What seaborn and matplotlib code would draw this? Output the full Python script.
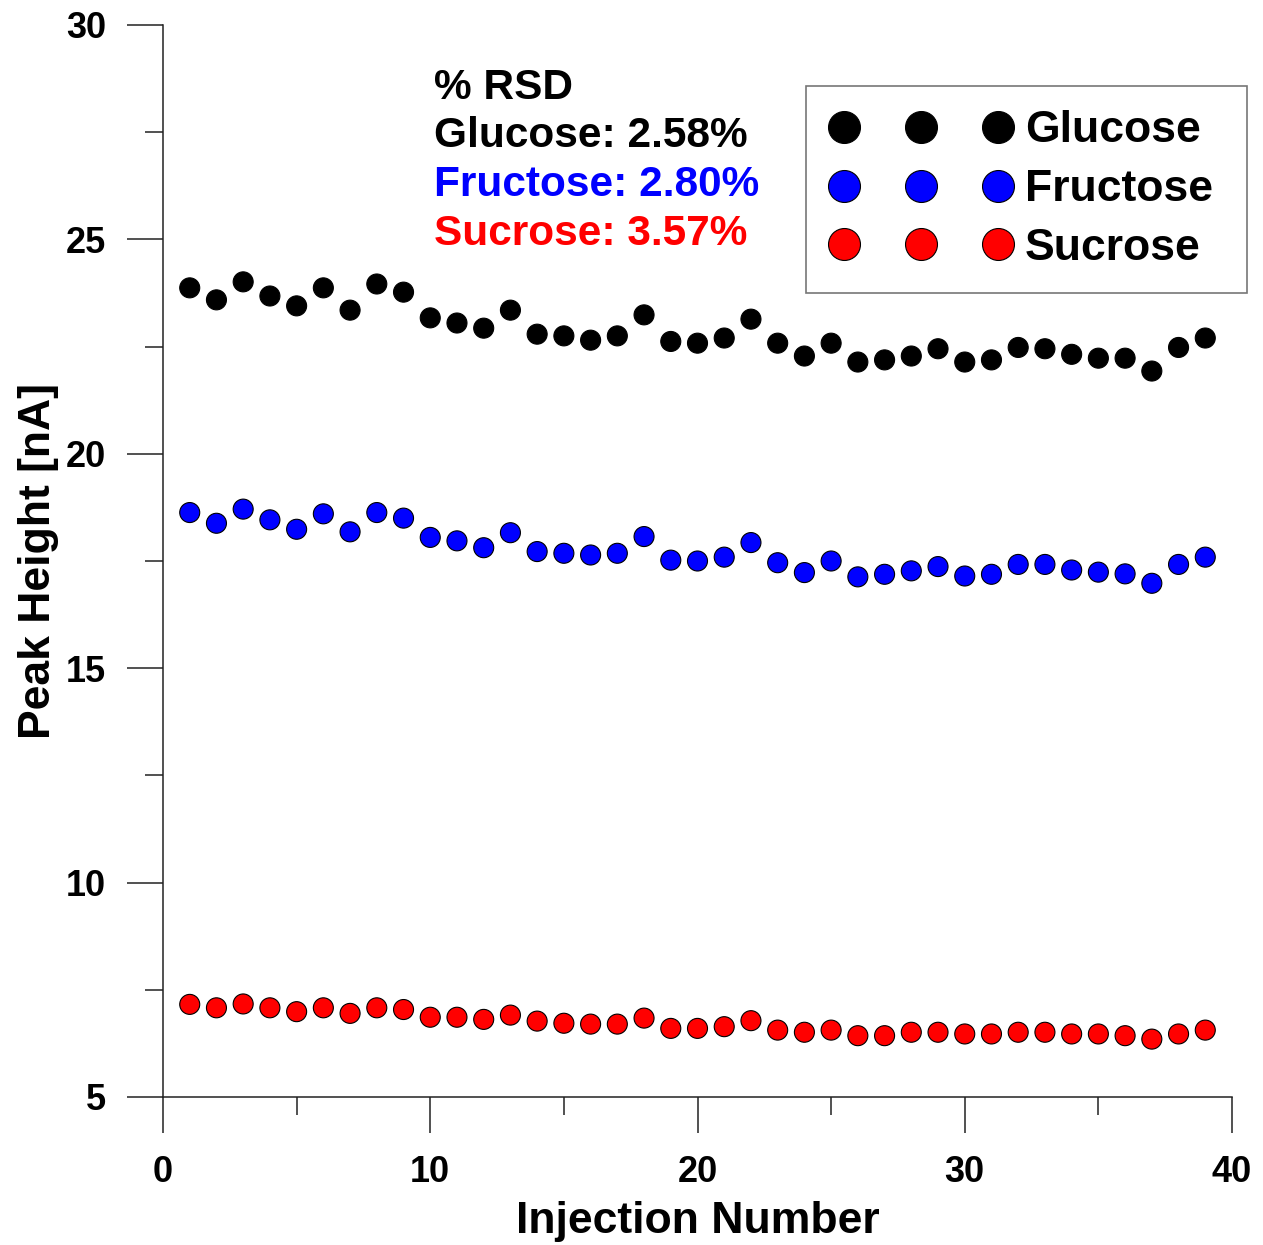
import numpy as np
import pandas as pd
import matplotlib
matplotlib.use("Agg")
import matplotlib.pyplot as plt
from matplotlib.lines import Line2D
from matplotlib.ticker import MultipleLocator
import seaborn as sns

# Peak heights [nA] for repeated injections of a sugar standard mix
injection = list(range(1, 40))
glucose = [23.87, 23.59, 24.01, 23.68, 23.45, 23.87, 23.35, 23.96, 23.77, 23.17,
           23.05, 22.93, 23.35, 22.79, 22.75, 22.65, 22.75, 23.24, 22.62, 22.58,
           22.70, 23.14, 22.58, 22.28, 22.58, 22.14, 22.19, 22.28, 22.45, 22.14,
           22.19, 22.48, 22.45, 22.32, 22.23, 22.23, 21.93, 22.48, 22.70]
fructose = [18.63, 18.38, 18.71, 18.46, 18.24, 18.60, 18.18, 18.63, 18.50, 18.05,
            17.97, 17.81, 18.16, 17.72, 17.68, 17.64, 17.68, 18.07, 17.52, 17.50,
            17.59, 17.93, 17.46, 17.23, 17.50, 17.13, 17.19, 17.27, 17.37, 17.15,
            17.19, 17.42, 17.42, 17.29, 17.24, 17.20, 16.98, 17.42, 17.59]
sucrose = [7.16, 7.08, 7.17, 7.08, 6.99, 7.08, 6.95, 7.08, 7.04, 6.86,
           6.86, 6.81, 6.91, 6.77, 6.72, 6.70, 6.70, 6.84, 6.60, 6.60,
           6.64, 6.78, 6.56, 6.51, 6.56, 6.43, 6.43, 6.51, 6.51, 6.47,
           6.47, 6.51, 6.51, 6.47, 6.47, 6.43, 6.35, 6.47, 6.56]

sugars = ["Glucose", "Fructose", "Sucrose"]
rsd = ["2.58%", "2.80%", "3.57%"]
colors = ["#000000", "#0000FF", "#FF0000"]

df = pd.DataFrame({
    "Injection": injection * 3,
    "Peak": glucose + fructose + sucrose,
    "Sugar": [s for s in sugars for _ in injection],
})

sns.set_style("ticks")
plt.rcParams["font.family"] = ["Liberation Sans", "DejaVu Sans"]
plt.rcParams["font.weight"] = "bold"
plt.rcParams["axes.labelweight"] = "bold"
plt.rcParams["text.color"] = "black"
plt.rcParams["axes.labelcolor"] = "black"
plt.rcParams["xtick.labelcolor"] = "black"
plt.rcParams["ytick.labelcolor"] = "black"

fig = plt.figure(figsize=(12.63, 12.45), dpi=100)
ax = fig.add_axes([163 / 1263, 1 - 1097 / 1245, (1232 - 163) / 1263, (1097 - 25) / 1245])

palette = dict(zip(sugars, colors))
msize = 14.4
sns.scatterplot(data=df, x="Injection", y="Peak", hue="Sugar", palette=palette,
                s=msize ** 2, edgecolor="black", linewidth=0.8, legend=False,
                ax=ax, zorder=3)

ax.set_xlim(0, 40)
ax.set_ylim(5, 30)
ax.xaxis.set_major_locator(MultipleLocator(10))
ax.xaxis.set_minor_locator(MultipleLocator(5))
ax.yaxis.set_major_locator(MultipleLocator(5))
ax.yaxis.set_minor_locator(MultipleLocator(2.5))

for side in ("top", "right"):
    ax.spines[side].set_visible(False)
for side in ("left", "bottom"):
    ax.spines[side].set_linewidth(1.1)
    ax.spines[side].set_color("#222222")

ax.tick_params(which="major", direction="out", length=26, width=1.1, color="#222222",
               labelsize=26, labelcolor="black")
ax.tick_params(which="minor", direction="out", length=13, width=1.1, color="#222222")
ax.tick_params(axis="y", which="major", pad=15)
ax.tick_params(axis="x", which="major", pad=16)
for lab in ax.get_xticklabels() + ax.get_yticklabels():
    lab.set_fontweight("bold")

ax.set_xlabel("Injection Number", fontsize=32, fontweight="bold", labelpad=8,
              color="black")
ax.set_ylabel("Peak Height [nA]", fontsize=32, fontweight="bold", labelpad=5,
              color="black")

# %RSD summary block
tx = (434 - 163) / 1069
ax.text(tx, 0.941, "% RSD", transform=ax.transAxes, ha="left", va="center",
        fontsize=30.5, fontweight="bold", color="black")
for i, (name, val, col) in enumerate(zip(sugars, rsd, colors)):
    ax.text(tx, 0.896 - i * 0.0457, f"{name}: {val}", transform=ax.transAxes,
            ha="left", va="center", fontsize=30.5, fontweight="bold", color=col)

handles = [Line2D([], [], linestyle="none", marker="o", markersize=23,
                  markerfacecolor=c, markeredgecolor="black", markeredgewidth=0.8)
           for c in colors]
leg_x0, leg_x1, leg_top = 806 / 1263, 1247 / 1263, 1 - 86 / 1245
leg = ax.legend(handles, sugars, loc="upper left", mode="expand",
                bbox_to_anchor=(leg_x0, leg_top - 0.2, leg_x1 - leg_x0, 0.2),
                bbox_transform=fig.transFigure, borderaxespad=0,
                numpoints=3, handlelength=4.07, handletextpad=0.3,
                labelspacing=0.4, borderpad=0.55, fancybox=False,
                frameon=True, prop={"size": 32, "weight": "bold"})
leg.get_frame().set_edgecolor("#555555")
leg.get_frame().set_linewidth(1.2)

fig.savefig("out.png", dpi=100)
